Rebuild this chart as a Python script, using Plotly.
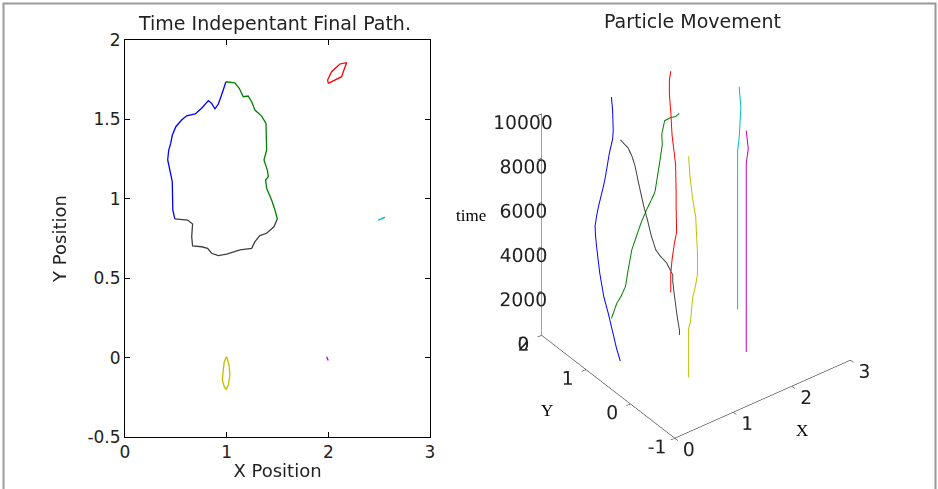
import plotly.graph_objects as go

# ---------------- data ----------------
# particle paths: x, y positions and time stamps
blue_x = [0.49, 0.47, 0.465, 0.44, 0.42, 0.43, 0.45, 0.465, 0.50, 0.557, 0.606, 0.69, 0.754, 0.82, 0.852, 0.885, 0.918, 0.95, 0.993]
blue_y = [0.873, 0.93, 1.108, 1.18, 1.245, 1.307, 1.35, 1.40, 1.454, 1.496, 1.523, 1.534, 1.57, 1.618, 1.601, 1.567, 1.597, 1.654, 1.737]
blue_t = [0, 500, 1800, 2500, 3500, 4200, 4400, 4900, 5200, 5500, 5800, 6500, 6800, 7100, 7800, 8500, 8800, 9600, 10000]

green_x = [0.993, 1.08, 1.124, 1.163, 1.212, 1.246, 1.278, 1.344, 1.387, 1.393, 1.367, 1.40, 1.41, 1.383, 1.393, 1.442, 1.475, 1.498]
green_y = [1.737, 1.73, 1.696, 1.643, 1.647, 1.611, 1.559, 1.521, 1.475, 1.307, 1.244, 1.181, 1.14, 1.118, 1.066, 0.992, 0.93, 0.873]
green_t = [0, 600, 900, 1400, 2100, 3000, 3600, 4300, 4800, 5800, 6100, 7500, 8300, 8800, 9500, 9700, 9800, 10000]

gray_x = [1.498, 1.465, 1.393, 1.327, 1.278, 1.246, 1.131, 1.0, 0.918, 0.852, 0.812, 0.754, 0.665, 0.656, 0.665, 0.616, 0.49]
gray_y = [0.873, 0.824, 0.783, 0.768, 0.730, 0.688, 0.678, 0.652, 0.642, 0.657, 0.688, 0.698, 0.703, 0.761, 0.841, 0.866, 0.873]
gray_t = [0, 300, 1100, 2300, 2900, 3300, 4000, 4500, 4900, 5600, 6300, 7000, 8200, 8800, 9100, 9500, 10000]

red_x = [2.0, 2.0, 2.032, 2.082, 2.131, 2.147, 2.17, 2.18, 2.114, 2.082, 2.032, 1.993, 2.0]
red_y = [1.727, 1.727, 1.737, 1.753, 1.769, 1.80, 1.832, 1.857, 1.849, 1.832, 1.80, 1.748, 1.727]
red_t = [0, 900, 1500, 2100, 2500, 3500, 4300, 5400, 6800, 7800, 8800, 9600, 10000]

yellow_x = [1.0, 1.0, 0.976, 0.967, 0.957, 0.976, 0.993, 1.016, 1.032, 1.023, 1.006, 1.0]
yellow_y = [0.006, 0.006, -0.026, -0.078, -0.141, -0.183, -0.2, -0.173, -0.11, -0.047, -0.011, 0.006]
yellow_t = [0, 2000, 2300, 2700, 3900, 4500, 5000, 5800, 7400, 8200, 9200, 10000]

cyan_x = [2.49, 2.49, 2.524, 2.557, 2.524]
cyan_y = [0.866, 0.866, 0.877, 0.883, 0.877]
cyan_t = [0, 7200, 7700, 9000, 10000]

magenta_x = [1.983, 1.983, 1.999, 1.983]
magenta_y = [0.006, 0.006, -0.019, 0.006]
magenta_t = [0, 8500, 9200, 10000]

particles = [
    (blue_x, blue_y, blue_t, "#0000FF"),
    (green_x, green_y, green_t, "#008000"),
    (gray_x, gray_y, gray_t, "#404040"),
    (red_x, red_y, red_t, "#FF0000"),
    (yellow_x, yellow_y, yellow_t, "#BFBF00"),
    (cyan_x, cyan_y, cyan_t, "#00BFBF"),
    (magenta_x, magenta_y, magenta_t, "#BF00BF"),
]

x2d_ticks = [0, 1, 2, 3]
y2d_ticks = [-0.5, 0, 0.5, 1, 1.5, 2]
y2d_text = ["-0.5", "0", "0.5", "1", "1.5", "2"]
x3d_ticks = [0, 1, 2, 3]
y3d_ticks = [-1, 0, 1, 2]
y3d_text = ["-1", "0", "1", "2"]
z3d_ticks = [0, 2000, 4000, 6000, 8000, 10000]
z3d_text = ["0", "2000", "4000", "6000", "8000", "10000"]

SANS = "DejaVu Sans"
SERIF = "Liberation Serif"
TXT = "#222222"

fig = go.Figure()

for px_, py_, pt_, col in particles:
    fig.add_trace(go.Scatter(x=px_, y=py_, mode="lines",
                             line=dict(color=col, width=1.3),
                             showlegend=False, hoverinfo="skip",
                             xaxis="x", yaxis="y"))
    fig.add_trace(go.Scatter3d(x=px_, y=py_, z=pt_, mode="lines",
                               line=dict(color=col, width=2),
                               showlegend=False, hoverinfo="skip",
                               scene="scene"))

ax3 = dict(showbackground=False, showgrid=False, zeroline=False,
           showline=True, linecolor="black", linewidth=1,
           ticks="outside", tickcolor="black", ticklen=5, tickangle=0,
           showspikes=False, title=dict(text=""),
           tickfont=dict(family=SANS, size=15, color=TXT))

fig.update_layout(
    template="none",
    width=938, height=489,
    margin=dict(l=0, r=0, t=0, b=0, autoexpand=False),
    paper_bgcolor="white", plot_bgcolor="white",
    xaxis=dict(domain=[125/938, 430/938], range=[0, 3], automargin=False,
               tickvals=x2d_ticks, ticks="inside", ticklen=5,
               tickcolor="black", showline=True, linecolor="black",
               mirror="ticks", showgrid=False, zeroline=False,
               tickfont=dict(family=SANS, size=17, color=TXT),
               title=dict(text="X Position", font=dict(family=SANS, size=18, color=TXT),
                          standoff=2),
               anchor="y"),
    yaxis=dict(domain=[(489-437)/489, (489-40)/489], range=[-0.5, 2], automargin=False,
               tickvals=y2d_ticks, ticktext=y2d_text, ticks="inside", ticklen=5,
               tickcolor="black", showline=True, linecolor="black",
               mirror="ticks", showgrid=False, zeroline=False,
               tickfont=dict(family=SANS, size=17, color=TXT),
               title=dict(text="Y Position", font=dict(family=SANS, size=18, color=TXT),
                          standoff=16),
               anchor="x"),
    scene=dict(
        domain=dict(x=[454/938, 1.0], y=[15/489, 1.0]),
        xaxis=dict(ax3, range=[0, 3], tickvals=x3d_ticks),
        yaxis=dict(ax3, range=[-1, 2], tickvals=y3d_ticks, ticktext=y3d_text),
        zaxis=dict(ax3, range=[0, 10000], tickvals=z3d_ticks, ticktext=z3d_text,
                   ticklen=16),
        aspectmode="manual", aspectratio=dict(x=0.93, y=0.93, z=1.153),
        camera=dict(eye=dict(x=-0.949, y=-1.251, z=1.135),
                    up=dict(x=0, y=0, z=1), center=dict(x=0, y=0, z=0),
                    projection=dict(type="orthographic")),
        bgcolor="white",
    ),
    annotations=[
        dict(text="Time Indepentant Final Path.", x=274/938, y=(489-23)/489,
             xref="paper", yref="paper", showarrow=False,
             font=dict(family=SANS, size=19, color=TXT), xanchor="center", yanchor="middle"),
        dict(text="Particle Movement", x=692/938, y=(489-21)/489,
             xref="paper", yref="paper", showarrow=False,
             font=dict(family=SANS, size=19, color=TXT), xanchor="center", yanchor="middle"),
        dict(text="time", x=471/938, y=(489-215)/489,
             xref="paper", yref="paper", showarrow=False,
             font=dict(family=SERIF, size=17, color="black"), xanchor="center", yanchor="middle"),
        dict(text="Y", x=547/938, y=(489-410)/489,
             xref="paper", yref="paper", showarrow=False,
             font=dict(family=SERIF, size=17, color="black"), xanchor="center", yanchor="middle"),
        dict(text="X", x=802/938, y=(489-430)/489,
             xref="paper", yref="paper", showarrow=False,
             font=dict(family=SERIF, size=17, color="black"), xanchor="center", yanchor="middle"),
    ],
    shapes=[dict(type="rect", xref="paper", yref="paper",
                 x0=3.5/938, x1=935.5/938, y0=-0.05, y1=(489-3.5)/489,
                 line=dict(color="#9a9a9a", width=2))],
)

fig.write_html("out.html")
